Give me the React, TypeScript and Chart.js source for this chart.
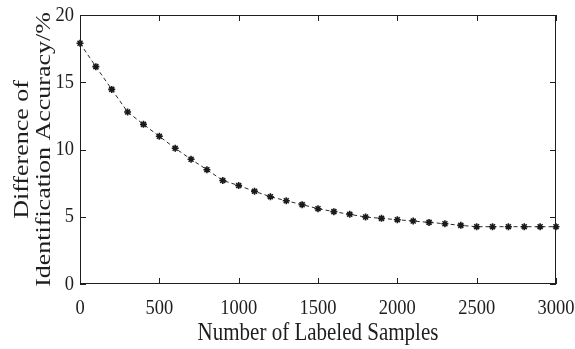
import React, { useEffect, useRef } from "react";
import { Chart, registerables } from "chart.js";

Chart.register(...registerables);

const samples = [0, 100, 200, 300, 400, 500, 600, 700, 800, 900, 1000, 1100, 1200, 1300, 1400, 1500, 1600, 1700, 1800, 1900, 2000, 2100, 2200, 2300, 2400, 2500, 2600, 2700, 2800, 2900, 3000];
const accuracyDiff = [17.9, 16.16, 14.47, 12.79, 11.87, 10.98, 10.09, 9.27, 8.5, 7.7, 7.32, 6.89, 6.49, 6.19, 5.9, 5.6, 5.38, 5.18, 4.98, 4.88, 4.78, 4.68, 4.58, 4.48, 4.36, 4.26, 4.26, 4.26, 4.26, 4.26, 4.26];
const xTitle = "Number of Labeled Samples";
const yTitleLines = ["Difference of", "Identification Accuracy/%"];

const FONT = "'Liberation Serif', 'Times New Roman', serif";
const SY = 1.18;
const INK = "#1e1e1e";

function drawText(ctx: CanvasRenderingContext2D, text: string, x: number, y: number, size: number, align: CanvasTextAlign, baseline: CanvasTextBaseline, rotate = false) {
  ctx.save();
  ctx.translate(x, y);
  ctx.scale(1, SY);
  if (rotate) ctx.rotate(-Math.PI / 2);
  ctx.font = `${size}px ${FONT}`;
  ctx.fillStyle = INK;
  ctx.textAlign = align;
  ctx.textBaseline = baseline;
  ctx.fillText(text, 0, 0);
  ctx.restore();
}

const framePlugin = {
  id: "frame",
  afterDatasetsDraw(chart: any) {
    const ctx: CanvasRenderingContext2D = chart.ctx;
    const { left, right, top, bottom } = chart.chartArea;
    const xs = chart.scales.x;
    const ys = chart.scales.y;
    ctx.save();
    ctx.strokeStyle = INK;
    ctx.lineWidth = 1;
    ctx.strokeRect(left + 0.5, top + 0.5, right - left - 1, bottom - top - 1);
    const tl = 6;
    ctx.beginPath();
    xs.ticks.forEach((t: any) => {
      const px = Math.round(xs.getPixelForValue(t.value)) + 0.5;
      ctx.moveTo(px, bottom);
      ctx.lineTo(px, bottom - tl);
      ctx.moveTo(px, top);
      ctx.lineTo(px, top + tl);
    });
    ys.ticks.forEach((t: any) => {
      const py = Math.round(ys.getPixelForValue(t.value)) + 0.5;
      ctx.moveTo(left, py);
      ctx.lineTo(left + tl, py);
      ctx.moveTo(right, py);
      ctx.lineTo(right - tl, py);
    });
    ctx.stroke();
    ctx.restore();

    xs.ticks.forEach((t: any) => {
      drawText(ctx, String(t.value), xs.getPixelForValue(t.value), 313.5, 18.5, "center", "alphabetic");
    });
    ys.ticks.forEach((t: any) => {
      drawText(ctx, String(t.value), left - 6, ys.getPixelForValue(t.value), 18.5, "right", "middle");
    });
    drawText(ctx, xTitle, (left + right) / 2, 340, 21, "center", "alphabetic");
    drawText(ctx, yTitleLines[0], 28, (top + bottom) / 2, 22, "center", "alphabetic", true);
    drawText(ctx, yTitleLines[1], 50, (top + bottom) / 2, 22, "center", "alphabetic", true);
  },
};

export default function App() {
  const ref = useRef<HTMLCanvasElement>(null);
  useEffect(() => {
    document.body.style.margin = "0";
    const chart = new Chart(ref.current!, {
      type: "line",
      data: {
        datasets: [
          {
            data: samples.map((s, i) => ({ x: s, y: accuracyDiff[i] })),
            borderColor: "#2a2a2a",
            borderWidth: 1,
            borderDash: [4, 3],
            pointStyle: "star",
            pointRadius: 3.5,
            pointBorderWidth: 1.6,
            pointBorderColor: "#1a1a1a",
            pointBackgroundColor: "#1a1a1a",
            fill: false,
            tension: 0,
            clip: false as any,
          },
        ],
      },
      options: {
        responsive: false,
        animation: false,
        layout: { padding: { left: 80, right: 19, top: 15, bottom: 65 } },
        plugins: { legend: { display: false }, tooltip: { enabled: false } },
        scales: {
          x: { type: "linear", min: 0, max: 3000, display: false, ticks: { stepSize: 500 } },
          y: { type: "linear", min: 0, max: 20, display: false, ticks: { stepSize: 5 } },
        },
      },
      plugins: [framePlugin],
    });
    return () => chart.destroy();
  }, []);
  return (
    <div style={{ position: "fixed", left: 0, top: 0, width: 575, height: 349, background: "#fff" }}>
      <canvas ref={ref} width={575} height={349} />
    </div>
  );
}
